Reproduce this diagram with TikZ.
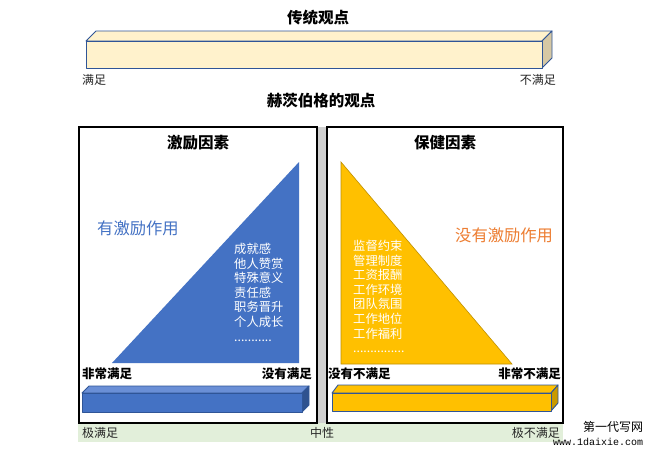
\documentclass[tikz,border=0pt]{standalone}
\usepackage{fontspec}
\setmainfont{Noto Sans CJK SC}
\newfontfamily\wmfont{Liberation Mono}
\definecolor{barline}{HTML}{2F5597}
\definecolor{cream}{HTML}{FFF2CC}
\definecolor{creamside}{HTML}{D6C8A4}
\definecolor{mblue}{HTML}{4472C4}
\definecolor{mbluetop}{HTML}{6A8FD6}
\definecolor{mblueside}{HTML}{2F528F}
\definecolor{gold}{HTML}{FFC000}
\definecolor{goldline}{HTML}{BF9000}
\definecolor{goldside}{HTML}{C99A00}
\definecolor{morange}{HTML}{ED7D31}
\definecolor{lgreen}{HTML}{E2EFDA}
\definecolor{sepgray}{HTML}{D0D0D0}
\definecolor{dtext}{HTML}{262626}
\tikzset{
  ttl/.style={inner sep=0pt, font=\bfseries\fontsize{15.5}{18}\selectfont},
  endlbl/.style={inner sep=0pt, font=\bfseries\fontsize{12.5}{14}\selectfont},
  small/.style={inner sep=0pt, text=dtext, font=\fontsize{12}{14}\selectfont},
  effect/.style={inner sep=0pt, font=\fontsize{16.3}{18}\selectfont},
  factlist/.style={inner sep=0pt, text=white, align=left, font=\fontsize{12.3}{14.6}\selectfont},
  panel/.style={draw=black, line width=1.8pt, fill=white},
  barface/.style={draw=barline, line width=0.9pt, line join=round}
}
\begin{document}
\begin{tikzpicture}[x=1pt,y=-1pt]
\useasboundingbox (0,0) rectangle (653,456);
\fill[white] (0,0) rectangle (653,456);
% traditional view
\node[ttl] (t1) at (318,18) {传统观点};
\draw[barface, fill=cream] (86,41) -- (96,31) -- (552,31) -- (542,41) -- cycle;
\draw[barface, fill=creamside] (542,41) -- (552,31) -- (552,58) -- (542,68) -- cycle;
\draw[barface, fill=cream] (86,41) rectangle (542,68);
\node[small, anchor=west] (sat) at (82,80) {满足};
\node[small, anchor=east] (unsat) at (556,80) {不满足};
\node[ttl] (t2) at (321,101) {赫茨伯格的观点};
% bottom green strip
\fill[lgreen] (78,423) rectangle (563,442);
% panels
\fill[sepgray] (316,127) rectangle (328,423);
\draw[panel] (79,127) rectangle (317,423);
\draw[panel] (327,127) rectangle (563,423);
% left panel
\node[ttl] (h1) at (198,143) {激励因素};
\fill[mblue] (299,162) -- (112,363) -- (299,363) -- cycle;
\node[effect, text=mblue, anchor=west] (e1) at (97,228) {有激励作用};
\node[factlist, anchor=north west] (l1) at (234,243) {成就感\\他人赞赏\\特殊意义\\责任感\\职务晋升\\个人成长\\...........};
\node[endlbl, anchor=west] (a1) at (82,374) {非常满足};
\node[endlbl, anchor=east] (a2) at (312,374) {没有满足};
\draw[barface, fill=mbluetop] (82,393) -- (89,386) -- (309,386) -- (302,393) -- cycle;
\draw[barface, fill=mblueside] (302,393) -- (309,386) -- (309,405) -- (302,412) -- cycle;
\draw[barface, fill=mblue] (82,393) rectangle (302,412);
% right panel
\node[ttl] (h2) at (445,143) {保健因素};
\filldraw[fill=gold, draw=goldline, line width=0.6pt] (341,162) -- (341,364) -- (512,364) -- cycle;
\node[effect, text=morange, anchor=west] (e2) at (455,235) {没有激励作用};
\node[factlist, anchor=north west] (l2) at (353,240) {监督约束\\管理制度\\工资报酬\\工作环境\\团队氛围\\工作地位\\工作福利\\...............};
\node[endlbl, anchor=west] (b1) at (328,374) {没有不满足};
\node[endlbl, anchor=east] (b2) at (561,374) {非常不满足};
\draw[barface, fill=gold] (332,393) -- (338,385) -- (558,385) -- (551,393) -- cycle;
\draw[barface, fill=goldside] (551,393) -- (558,385) -- (558,403) -- (551,411) -- cycle;
\draw[barface, fill=gold] (332,393) rectangle (551,411);
% bottom labels
\node[small, anchor=west] (x1) at (82,433) {极满足};
\node[small] (x2) at (322,433) {中性};
\node[small, anchor=east] (x3) at (560,433) {极不满足};
% watermark
\node[inner sep=0pt, font=\fontsize{12}{14}\selectfont] (w1) at (613,427) {第一代写网};
\node[inner sep=0pt, font=\wmfont\fontsize{10}{12}\selectfont] (w2) at (598,442) {www.1daixie.com};
\end{tikzpicture}
\end{document}
